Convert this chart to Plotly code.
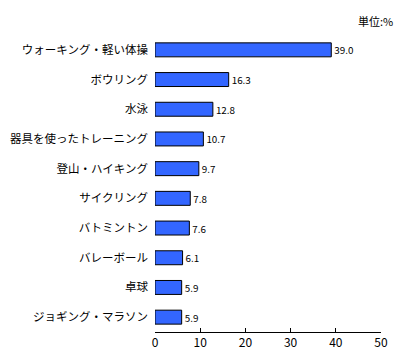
import plotly.graph_objects as go

categories = ["ウォーキング・軽い体操", "ボウリング", "水泳", "器具を使ったトレーニング",
              "登山・ハイキング", "サイクリング", "バトミントン", "バレーボール", "卓球",
              "ジョギング・マラソン"]
values = [39.0, 16.3, 12.8, 10.7, 9.7, 7.8, 7.6, 6.1, 5.9, 5.9]
x_ticks = [0, 10, 20, 30, 40, 50]

FONT = "Noto Sans CJK JP"

fig = go.Figure(go.Bar(
    y=categories, x=values, orientation="h",
    marker=dict(color="#3366FF", line=dict(color="#000000", width=1)),
    text=[f"{v:.1f}" for v in values], textposition="outside",
    textfont=dict(family=FONT, size=12, color="#000000"),
    cliponaxis=False,
))

fig.update_layout(
    width=397, height=348,
    margin=dict(l=147, r=24, t=27, b=24),
    paper_bgcolor="white", plot_bgcolor="white",
    bargap=0.53,
    showlegend=False,
    font=dict(family=FONT, size=12, color="#000000"),
    xaxis=dict(range=[0, 50], tickvals=x_ticks, showgrid=False, zeroline=False,
               showline=True, linecolor="#000000", linewidth=1,
               ticks="inside", ticklen=4, tickcolor="#000000",
               tickfont=dict(family=FONT, size=12), automargin=False),
    yaxis=dict(autorange="reversed", showgrid=False, zeroline=False, showline=False,
               ticks="", ticklabelstandoff=6, automargin=False,
               tickfont=dict(family=FONT, size=11.5)),
    annotations=[dict(text="単位:%", x=1.0, y=1.0, xref="paper", yref="paper",
                      xanchor="right", yanchor="bottom", yshift=4, xshift=14,
                      showarrow=False, font=dict(family=FONT, size=11))],
)

fig.write_html("out.html")
